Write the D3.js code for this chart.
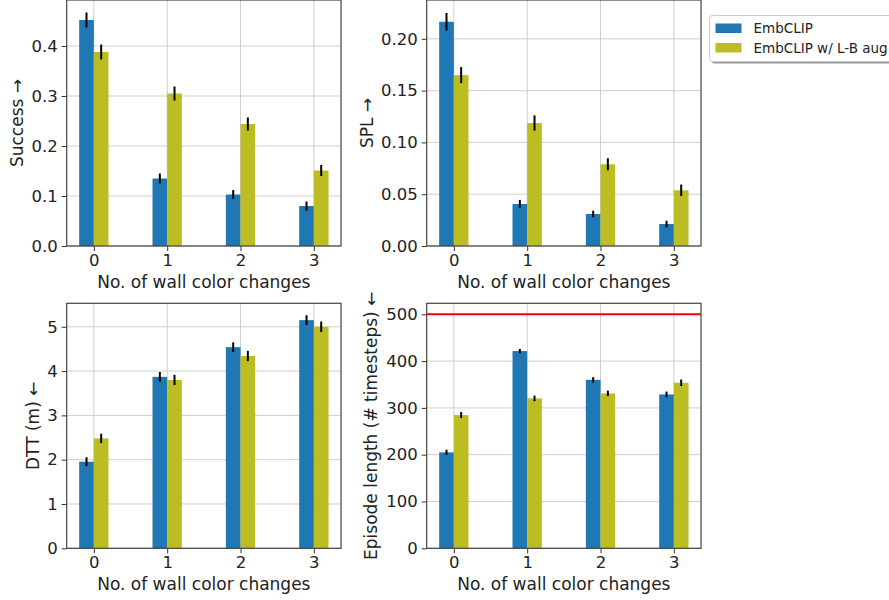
<!DOCTYPE html>
<html>
<head>
<meta charset="utf-8">
<script src="https://cdn.jsdelivr.net/npm/d3@7"></script>
<style>
  body { margin: 0; background: #fff; }
  svg { display: block; font-family: "DejaVu Sans", sans-serif; }
</style>
</head>
<body>
<svg id="canvas"></svg>
<script>
// data
const categories = [0, 1, 2, 3];
const seriesNames = ['EmbCLIP', 'EmbCLIP w/ L-B aug'];
const seriesColors = ['#1f77b4', '#bcbd22'];

const successEmb = [0.452, 0.135, 0.103, 0.080];
const successEmbErr = [0.015, 0.010, 0.009, 0.009];
const successAug = [0.388, 0.305, 0.244, 0.151];
const successAugErr = [0.015, 0.014, 0.013, 0.011];

const splEmb = [0.2165, 0.0405, 0.0309, 0.0212];
const splEmbErr = [0.0085, 0.004, 0.0032, 0.0032];
const splAug = [0.165, 0.1187, 0.0789, 0.0538];
const splAugErr = [0.0077, 0.0074, 0.0058, 0.0055];

const dttEmb = [1.955, 3.87, 4.54, 5.15];
const dttEmbErr = [0.10, 0.11, 0.11, 0.11];
const dttAug = [2.48, 3.80, 4.34, 5.00];
const dttAugErr = [0.105, 0.115, 0.115, 0.12];

const epEmb = [205, 421.4, 360, 328.8];
const epEmbErr = [5.7, 4.6, 5.7, 6];
const epAug = [284.7, 320.3, 331, 353.7];
const epAugErr = [6.4, 6, 6, 7];

const successTicks = [0, 0.1, 0.2, 0.3, 0.4];
const splTicks = [0, 0.05, 0.10, 0.15, 0.20];
const dttTicks = [0, 1, 2, 3, 4, 5];
const epTicks = [0, 100, 200, 300, 400, 500];
const epLimit = 500;

const xLabel = 'No. of wall color changes';

const W = 889, H = 600;
const svg = d3.select('svg#canvas').attr('width', W).attr('height', H);

const panels = [
    {label: 'Success \u2192', a: successEmb, ae: successEmbErr, b: successAug, be: successAugErr,
     ticks: successTicks, fmt: d3.format('.1f'), ymax: 0.492,
     box: {x0: 66.7, x1: 341, y0: 0, y1: 246}, labelX: 17},
    {label: 'SPL \u2192', a: splEmb, ae: splEmbErr, b: splAug, be: splAugErr,
     ticks: splTicks, fmt: d3.format('.2f'), ymax: 0.2375,
     box: {x0: 426.7, x1: 701, y0: 0, y1: 246}, labelX: 367},
    {label: 'DTT (m) \u2190', a: dttEmb, ae: dttEmbErr, b: dttAug, be: dttAugErr,
     ticks: dttTicks, fmt: d3.format('d'), ymax: 5.53,
     box: {x0: 66.7, x1: 341, y0: 303.3, y1: 548.3}, labelX: 33},
    {label: 'Episode length (# timesteps) \u2190', a: epEmb, ae: epEmbErr, b: epAug, be: epAugErr,
     ticks: epTicks, fmt: d3.format('d'), ymax: 523.5, hline: epLimit,
     box: {x0: 426.7, x1: 701, y0: 303.3, y1: 548.3}, labelX: 371}
];

const BAR_W = 0.2;

panels.forEach(p => {
    const b = p.box;
    const x = d3.scaleLinear().domain([-0.37, 3.37]).range([b.x0, b.x1]);
    const y = d3.scaleLinear().domain([0, p.ymax]).range([b.y1, b.y0]);
    const g = svg.append('g');

    // grid
    g.selectAll('line.vgrid').data(categories).join('line')
        .attr('x1', d => x(d)).attr('x2', d => x(d))
        .attr('y1', b.y0).attr('y2', b.y1)
        .attr('stroke', '#cfcfcf').attr('stroke-width', 1);
    g.selectAll('line.hgrid').data(p.ticks).join('line')
        .attr('x1', b.x0).attr('x2', b.x1)
        .attr('y1', d => y(d)).attr('y2', d => y(d))
        .attr('stroke', '#cfcfcf').attr('stroke-width', 1);

    // bars + error bars
    [[p.a, p.ae, -BAR_W], [p.b, p.be, 0]].forEach(([vals, errs, off], si) => {
        g.selectAll('rect.s' + si).data(categories).join('rect')
            .attr('x', d => x(d + off))
            .attr('width', x(BAR_W) - x(0))
            .attr('y', (d, i) => y(vals[i]))
            .attr('height', (d, i) => y(0) - y(vals[i]))
            .attr('fill', seriesColors[si]);
        g.selectAll('line.e' + si).data(categories).join('line')
            .attr('x1', d => x(d + off + BAR_W / 2))
            .attr('x2', d => x(d + off + BAR_W / 2))
            .attr('y1', (d, i) => y(vals[i] - errs[i]))
            .attr('y2', (d, i) => y(vals[i] + errs[i]))
            .attr('stroke', '#000').attr('stroke-width', 2);
    });

    if (p.hline !== undefined) {
        g.append('line')
            .attr('x1', b.x0).attr('x2', b.x1)
            .attr('y1', y(p.hline)).attr('y2', y(p.hline))
            .attr('stroke', '#ff0000').attr('stroke-width', 2);
    }

    // axes
    const yAxis = d3.axisLeft(y).tickValues(p.ticks).tickFormat(p.fmt).tickSize(5).tickPadding(4);
    const xAxis = d3.axisBottom(x).tickValues(categories).tickFormat(d3.format('d')).tickSize(5).tickPadding(3);
    const ya = g.append('g').attr('transform', `translate(${b.x0},0)`).call(yAxis);
    const xa = g.append('g').attr('transform', `translate(0,${b.y1})`).call(xAxis);
    [ya, xa].forEach(a => {
        a.select('.domain').remove();
        a.selectAll('.tick line').attr('stroke', '#333');
        a.selectAll('.tick text').attr('fill', '#222')
            .style('font-size', '16.5px').style('font-family', '"DejaVu Sans", sans-serif');
    });

    // spines
    g.append('rect')
        .attr('x', b.x0).attr('y', b.y0)
        .attr('width', b.x1 - b.x0).attr('height', b.y1 - b.y0)
        .attr('fill', 'none').attr('stroke', '#444').attr('stroke-width', 1.2);

    g.append('text')
        .attr('x', (b.x0 + b.x1) / 2).attr('y', b.y1 + 42)
        .attr('text-anchor', 'middle').attr('fill', '#222')
        .style('font-size', '17px').text(xLabel);

    g.append('text')
        .attr('transform', `translate(${p.labelX + 6},${(b.y0 + b.y1) / 2}) rotate(-90)`)
        .attr('text-anchor', 'middle').attr('fill', '#222')
        .style('font-size', '17px').text(p.label);
});

// legend
const leg = svg.append('g').attr('transform', 'translate(709.5,15.5)');
leg.append('rect').attr('x', 2).attr('y', 2).attr('width', 200).attr('height', 46)
    .attr('rx', 3).attr('fill', '#555').attr('opacity', 0.6);
leg.append('rect').attr('width', 200).attr('height', 46)
    .attr('rx', 3).attr('fill', '#fff').attr('stroke', '#ccc');
seriesNames.forEach((name, i) => {
    leg.append('rect').attr('x', 6).attr('y', 8 + i * 19.5)
        .attr('width', 26).attr('height', 9.5).attr('fill', seriesColors[i]);
    leg.append('text').attr('x', 44).attr('y', 17.5 + i * 19.5)
        .attr('fill', '#222').style('font-size', '13.5px').text(name);
});
</script>
</body>
</html>
